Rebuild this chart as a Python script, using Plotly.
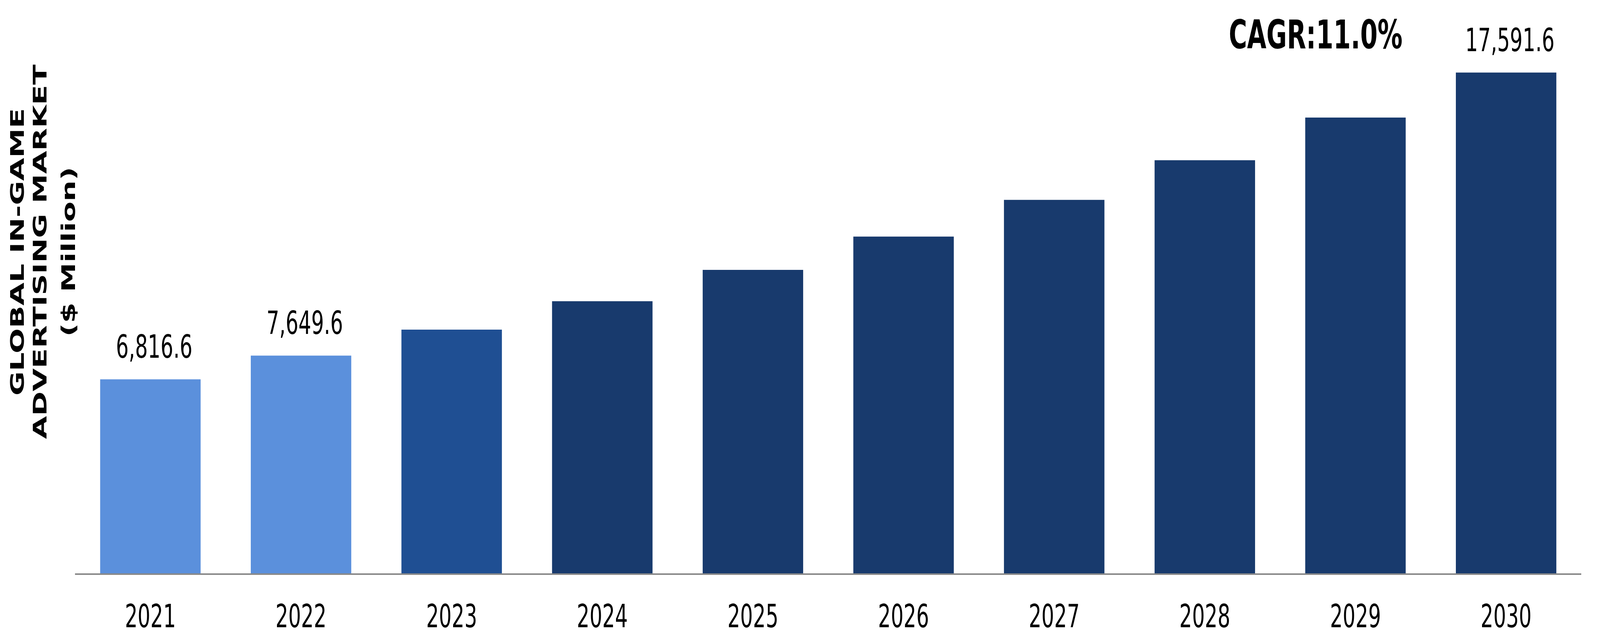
import plotly.graph_objects as go

# ---- data ----
years = ["2021", "2022", "2023", "2024", "2025", "2026", "2027", "2028", "2029", "2030"]
values = [6816.6, 7649.6, 8560, 9560, 10660, 11830, 13120, 14510, 16010, 17591.6]
value_labels = ["6,816.6", "7,649.6", "", "", "", "", "", "", "", "17,591.6"]
bar_colors = ["#5B90DC", "#5B90DC", "#1F4F93",
              "#183A6D", "#183A6D", "#183A6D", "#183A6D", "#183A6D", "#183A6D", "#183A6D"]
y_title_lines = ["GLOBAL IN-GAME", "ADVERTISING MARKET", "($ Million)"]
cagr_text = "CAGR:11.0%"

FONT = "Verdana, DejaVu Sans, sans-serif"

W, H = 6543, 1631
ML, MR, MT, MB = 307, 76, 0, 163
PW, PH = W - ML - MR, H - MT - MB

fig = go.Figure()
fig.add_trace(go.Bar(
    x=years, y=values,
    marker=dict(color=bar_colors, line=dict(width=0)),
    hoverinfo="x+y",
))

annotations = []
for i, (v, lab) in enumerate(zip(values, value_labels)):
    if lab:
        annotations.append(dict(
            x=i, y=v, xref="x", yref="y", text=lab, showarrow=False,
            xanchor="center", yanchor="bottom", yshift=34, xshift=15,
            font=dict(family=FONT, size=82, color="#000000"),
        ))

annotations.append(dict(
    x=(5380 - ML) / PW, y=(PH - 88) / PH, xref="paper", yref="paper",
    text="<b>" + cagr_text + "</b>",
    showarrow=False, xanchor="center", yanchor="middle",
    font=dict(family=FONT, size=102, color="#000000"),
))

# y-axis title: three rotated lines
title_x_px = [70, 163, 279]
title_y_px = 645
for line, xp in zip(y_title_lines, title_x_px):
    annotations.append(dict(
        x=(xp - ML) / PW, y=(PH - title_y_px) / PH, xref="paper", yref="paper",
        text="<b>" + line + "</b>", textangle=-90, showarrow=False,
        xanchor="center", yanchor="middle",
        font=dict(family=FONT, size=76, color="#000000"),
    ))

fig.update_layout(
    template="none",
    width=W, height=H, autosize=False,
    margin=dict(l=ML, r=MR, t=MT, b=MB, pad=0, autoexpand=False),
    paper_bgcolor="white", plot_bgcolor="white",
    bargap=0.333,
    showlegend=False,
    annotations=annotations,
    xaxis=dict(
        type="category", categoryorder="array", categoryarray=years,
        range=[-0.5, len(years) - 0.5], autorange=False, automargin=False,
        showline=True, linecolor="#898989", linewidth=4,
        ticks="outside", ticklen=36, tickcolor="rgba(0,0,0,0)",
        tickfont=dict(family=FONT, size=82, color="#000000"),
        showgrid=False, zeroline=False,
    ),
    yaxis=dict(
        range=[0, 20140], autorange=False, automargin=False,
        showline=False, showgrid=False, zeroline=False,
        showticklabels=False, ticks="",
    ),
)

# Fit the fixed-size figure to the browser window (no-op when the window is 6543x1631).
fit_script = """
(function(){
  var gd = document.getElementById('{plot_id}');
  var de = document.documentElement, b = document.body;
  de.style.margin = '0'; de.style.padding = '0'; de.style.overflow = 'hidden';
  b.style.margin = '0'; b.style.padding = '0'; b.style.overflow = 'hidden';
  function fit(){
    var sx = window.innerWidth / %d, sy = window.innerHeight / %d;
    gd.style.transformOrigin = '0 0';
    gd.style.transform = 'scale(' + sx + ',' + sy + ')';
  }
  fit();
  window.addEventListener('resize', fit);
})();
""" % (W, H)

fig.write_html("out.html", config={"responsive": False, "displayModeBar": False},
               post_script=fit_script)
